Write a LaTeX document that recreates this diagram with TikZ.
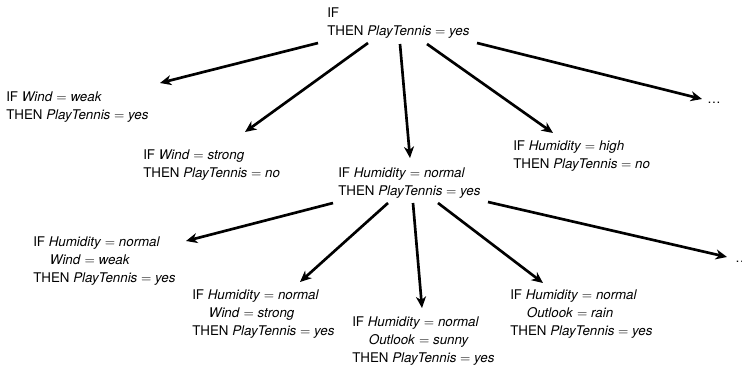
\documentclass[tikz,border=0pt]{standalone}
\usepackage{fontspec}
\setmainfont{TeX Gyre Heros}
\usetikzlibrary{arrows.meta,calc}
\tikzset{->,>={Stealth[length=8.5pt,width=7.5pt,inset=2.6pt]},shorten >=0pt,
    rule/.style={anchor=north west,inner sep=0pt,align=left,
        font=\fontsize{10}{13.3}\selectfont},
    more/.style={anchor=base west,inner sep=0pt},
    link/.style={line width=2pt}}
\newcommand{\condindent}{\hspace*{12.5pt}}

\begin{document}
\begin{tikzpicture}[x=0.75pt,y=-0.75pt]
\useasboundingbox (0,0) rectangle (742,364);
% general rule
\node[rule] (root) at (327,8) {IF\\THEN \textit{PlayTennis} $=$ \textit{yes}};

% one precondition
\node[rule] (weak) at (6,92) {IF \textit{Wind} $=$ \textit{weak}\\THEN \textit{PlayTennis} $=$ \textit{yes}};
\node[rule] (strong) at (143,150) {IF \textit{Wind} $=$ \textit{strong}\\THEN \textit{PlayTennis} $=$ \textit{no}};
\node[rule] (norm) at (338,168) {IF \textit{Humidity} $=$ \textit{normal}\\THEN \textit{PlayTennis} $=$ \textit{yes}};
\node[rule] (high) at (513,141) {IF \textit{Humidity} $=$ \textit{high}\\THEN \textit{PlayTennis} $=$ \textit{no}};
\node[more] (dotsA) at (707,103.5) {\dots};

% two preconditions
\node[rule] (nweak) at (33,237) {IF \textit{Humidity} $=$ \textit{normal}\\\condindent\textit{Wind} $=$ \textit{weak}\\THEN \textit{PlayTennis} $=$ \textit{yes}};
\node[rule] (nstrong) at (192,290) {IF \textit{Humidity} $=$ \textit{normal}\\\condindent\textit{Wind} $=$ \textit{strong}\\THEN \textit{PlayTennis} $=$ \textit{yes}};
\node[rule] (nsunny) at (352,317) {IF \textit{Humidity} $=$ \textit{normal}\\\condindent\textit{Outlook} $=$ \textit{sunny}\\THEN \textit{PlayTennis} $=$ \textit{yes}};
\node[rule] (nrain) at (510,290) {IF \textit{Humidity} $=$ \textit{normal}\\\condindent\textit{Outlook} $=$ \textit{rain}\\THEN \textit{PlayTennis} $=$ \textit{yes}};
\node[more] (dotsB) at (735,262) {\dots};

\draw[link] ($(root.north west)+(-9,35)$) -- ($(weak.north west)+(154,-9)$);
\draw[link] ($(root.north west)+(41,35)$) -- ($(strong.north west)+(102,-18)$);
\draw[link] ($(root.north west)+(73,36)$) -- ($(norm.north west)+(72,-10)$);
\draw[link] ($(root.north west)+(100,36)$) -- ($(high.north west)+(40,-8)$);
\draw[link] ($(root.north west)+(150,35)$) -- ($(dotsA.base west)+(-5,-4.5)$);

\draw[link] ($(norm.north west)+(-5,35)$) -- ($(nweak.north west)+(153,4)$);
\draw[link] ($(norm.north west)+(50,35)$) -- ($(nstrong.north west)+(108,-8)$);
\draw[link] ($(norm.north west)+(75,35)$) -- ($(nsunny.north west)+(70,-9)$);
\draw[link] ($(norm.north west)+(100,35)$) -- ($(nrain.north west)+(33,-7)$);
\draw[link] ($(norm.north west)+(150,34)$) -- ($(dotsB.base west)+(-8,-5)$);
\end{tikzpicture}
\end{document}
